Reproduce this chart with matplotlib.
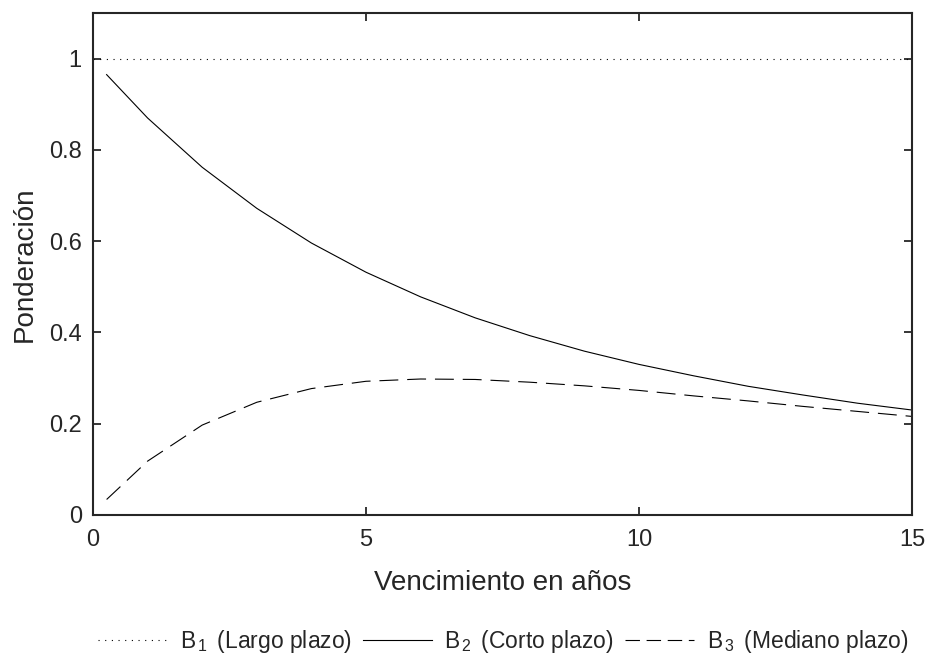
import numpy as np
import matplotlib
matplotlib.use("Agg")
import matplotlib.pyplot as plt
from matplotlib.lines import Line2D

plt.rcParams['font.family'] = ['Liberation Sans', 'DejaVu Sans']
plt.rcParams['mathtext.fontset'] = 'custom'
plt.rcParams['mathtext.rm'] = 'Liberation Sans'
plt.rcParams['mathtext.it'] = 'Liberation Sans'

# Factor loadings by maturity (years)
maturity = [0.25, 1, 2, 3, 4, 5, 6, 7, 8, 9, 10, 11, 12, 13, 14, 15]
b1_long = [1.0] * len(maturity)
b2_short = [0.965, 0.870, 0.762, 0.672, 0.596, 0.532, 0.478, 0.432,
            0.393, 0.359, 0.330, 0.305, 0.282, 0.263, 0.245, 0.230]
b3_medium = [0.034, 0.118, 0.197, 0.247, 0.277, 0.293, 0.298, 0.297,
             0.291, 0.283, 0.273, 0.261, 0.250, 0.238, 0.227, 0.216]

y_ticks = [0, 0.2, 0.4, 0.6, 0.8, 1]
y_tick_labels = ['0', '0.2', '0.4', '0.6', '0.8', '1']
x_ticks = [0, 5, 10, 15]

fig = plt.figure(figsize=(9.25, 6.6), dpi=100)
ax = fig.add_axes([0.1005, 0.2197, 0.8855, 0.7606])

lw = 0.8
ax.plot([0, 15], [b1_long[0], b1_long[-1]], color='black', lw=lw, dashes=(1, 5))
ax.plot(maturity, b2_short, color='black', lw=lw)
ax.plot(maturity, b3_medium, color='black', lw=lw, dashes=(17, 8))

ax.set_xlim(0, 15)
ax.set_ylim(0, 1.1)
ax.set_xticks(x_ticks)
ax.set_yticks(y_ticks)
ax.set_yticklabels(y_tick_labels)
ax.tick_params(direction='in', length=6, width=1.3, top=True, right=True,
               labelsize=17, colors='#262626')
ax.tick_params(axis='x', pad=10)
ax.tick_params(axis='y', pad=8)
for s in ax.spines.values():
    s.set_linewidth(1.5)
    s.set_color('#262626')

ax.set_xlabel('Vencimiento en años', fontsize=20, color='#262626', labelpad=14)
ax.set_ylabel('Ponderación', fontsize=20, color='#262626', labelpad=8)

handles = [
    Line2D([], [], color='black', lw=lw, dashes=(1, 5)),
    Line2D([], [], color='black', lw=lw),
    Line2D([], [], color='black', lw=lw, dashes=(13, 6)),
]
labels = [r'B$_{\,1}\,$ (Largo plazo)', r'B$_{\,2}\,$ (Corto plazo)',
          r'B$_{\,3}\,$ (Mediano plazo)']
fig.legend(handles, labels, loc='center', bbox_to_anchor=(0.544, 0.028), ncol=3,
           frameon=False, fontsize=16.5, handlelength=3.0, handletextpad=0.55,
           columnspacing=0.5, labelcolor='#262626', borderpad=0)

fig.savefig('out.png', dpi=100)
